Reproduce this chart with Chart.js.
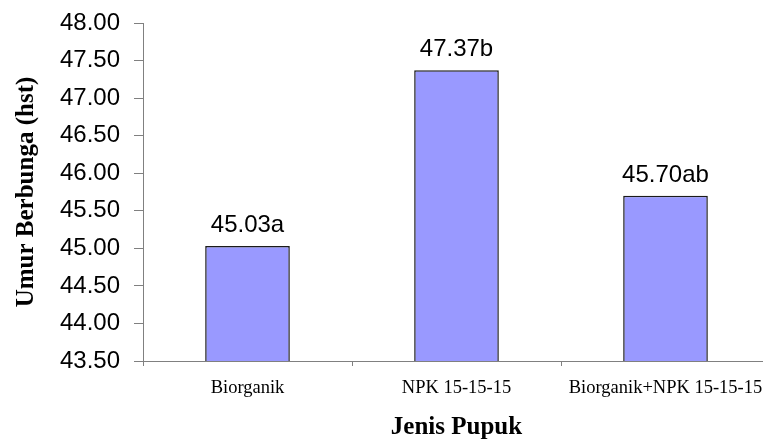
<!DOCTYPE html>
<html>
<head>
<meta charset="utf-8">
<script src="https://cdn.jsdelivr.net/npm/chart.js@4/dist/chart.umd.min.js"></script>
<style>
  html, body { margin: 0; padding: 0; background: #ffffff; overflow: hidden; }
  #wrap { position: relative; width: 770px; height: 443px; }
  canvas { display: block; }
</style>
</head>
<body>
<div id="wrap"><canvas id="chart" width="770" height="443"></canvas></div>
<script>
// Fertilizer treatments and mean days to flowering
const categories = ['Biorganik', 'NPK 15-15-15', 'Biorganik+NPK 15-15-15'];
const umurBerbunga = [45.03, 47.37, 45.70];
const notasi = ['a', 'b', 'ab'];
const yMin = 43.5;
const yMax = 48.0;
const yStep = 0.5;

// Writes the mean plus its significance letter above every bar
const valueLabels = {
  id: 'valueLabels',
  afterDatasetsDraw(chart) {
    const ctx = chart.ctx;
    const meta = chart.getDatasetMeta(0);
    ctx.save();
    ctx.font = '24px "Liberation Sans", Arial, sans-serif';
    ctx.fillStyle = '#000000';
    ctx.textAlign = 'center';
    ctx.textBaseline = 'alphabetic';
    meta.data.forEach((bar, i) => {
      const v = chart.data.datasets[0].data[i];
      ctx.fillText(v.toFixed(2) + notasi[i], bar.x, bar.y - 14);
    });
    ctx.restore();
  }
};

new Chart(document.getElementById('chart'), {
  type: 'bar',
  data: {
    labels: categories,
    datasets: [{
      data: umurBerbunga,
      backgroundColor: '#9999ff',
      borderColor: '#1a1a1a',
      borderWidth: 1.5,
      borderSkipped: false,
      barPercentage: 0.405,
      categoryPercentage: 1.0
    }]
  },
  options: {
    responsive: false,
    animation: false,
    devicePixelRatio: 1,
    layout: { padding: { top: 23, left: 0, right: 0, bottom: 0 } },
    plugins: {
      legend: { display: false },
      tooltip: { enabled: false }
    },
    scales: {
      x: {
        grid: {
          offset: true,
          drawOnChartArea: false,
          drawTicks: true,
          tickLength: 5,
          color: '#808080'
        },
        border: { display: true, color: '#808080', width: 1 },
        ticks: {
          color: '#000000',
          padding: 11,
          maxRotation: 0,
          autoSkip: false,
          font: { family: '"Liberation Serif", "Times New Roman", serif', size: 18.5 }
        },
        title: {
          display: true,
          text: 'Jenis Pupuk',
          color: '#000000',
          padding: { top: 0, bottom: 0 },
          font: { family: '"Liberation Serif", "Times New Roman", serif', size: 25, weight: 'bold' }
        },
        afterFit(scale) {
          scale.height = 82;
          scale.paddingLeft = 0;
          scale.paddingRight = 0;
        }
      },
      y: {
        min: yMin,
        max: yMax,
        grid: {
          drawOnChartArea: false,
          drawTicks: true,
          tickLength: 9,
          color: '#808080'
        },
        border: { display: true, color: '#808080', width: 1 },
        ticks: {
          stepSize: yStep,
          color: '#000000',
          padding: 14,
          font: { family: '"Liberation Sans", Arial, sans-serif', size: 24 },
          callback: (v) => Number(v).toFixed(2)
        },
        title: {
          display: true,
          text: 'Umur Berbunga (hst)',
          color: '#000000',
          padding: { top: 12, bottom: 0 },
          font: { family: '"Liberation Serif", "Times New Roman", serif', size: 25, weight: 'bold' }
        },
        afterFit(scale) {
          scale.width = 143;
          scale.paddingTop = 0;
          scale.paddingBottom = 0;
        }
      }
    }
  },
  plugins: [valueLabels]
});
</script>
</body>
</html>
